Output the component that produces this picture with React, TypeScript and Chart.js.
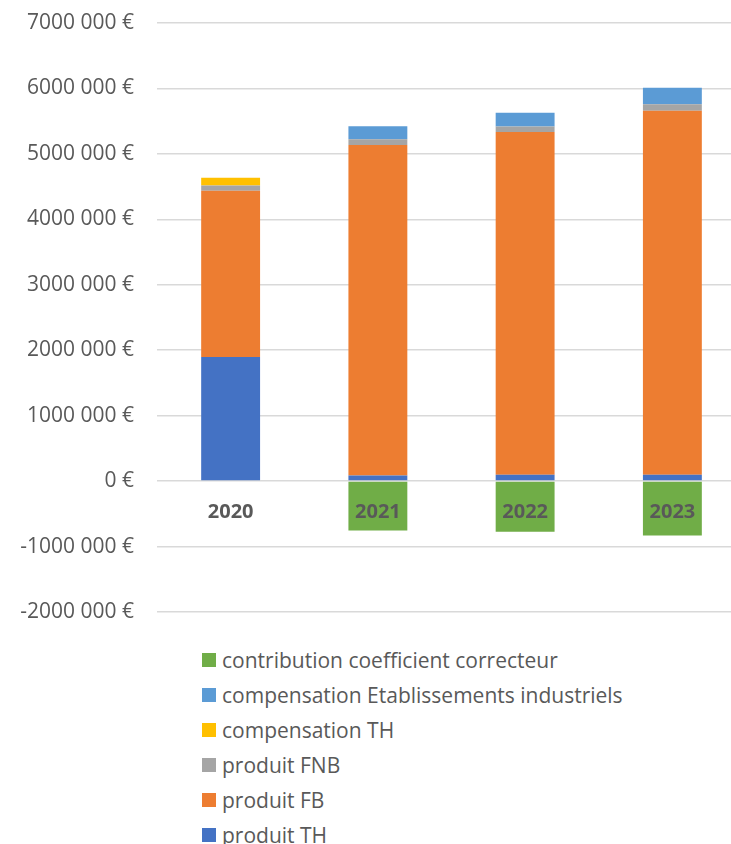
import React, { useEffect, useRef } from "react";
import { Chart, registerables } from "chart.js";

Chart.register(...registerables);

const categories = ["2020", "2021", "2022", "2023"];
const produitTH = [1895000, 85000, 96000, 96000];
const produitFB = [2540000, 5050000, 5240000, 5564000];
const produitFNB = [81000, 87000, 83000, 98000];
const compensationTH = [120000, 0, 0, 0];
const compensationEI = [0, 200000, 210000, 254000];
const contributionCoef = [0, -755000, -775000, -830000];

const seriesNames = [
  "produit TH",
  "produit FB",
  "produit FNB",
  "compensation TH",
  "compensation Etablissements industriels",
  "contribution coefficient correcteur",
];
const seriesColors = ["#4472C4", "#ED7D31", "#A5A5A5", "#FFC000", "#5B9BD5", "#70AD47"];
const seriesData = [produitTH, produitFB, produitFNB, compensationTH, compensationEI, contributionCoef];

const yMin = -2000000;
const yMax = 7000000;
const yStep = 1000000;

function formatEuro(v: number): string {
  if (v === 0) return "0 €";
  const sign = v < 0 ? "-" : "";
  const a = Math.abs(Math.round(v));
  if (a < 1000) return sign + a + " €";
  const hi = Math.floor(a / 1000);
  const lo = String(a % 1000).padStart(3, "0");
  return sign + hi + " " + lo + " €";
}

const FONT = "'Open Sans', sans-serif";
const TEXT = "#595959";

export default function App() {
  const ref = useRef<HTMLCanvasElement | null>(null);

  useEffect(() => {
    if (!ref.current) return;
    const chart = new Chart(ref.current, {
      type: "bar",
      data: {
        labels: categories,
        datasets: seriesNames.map((name, i) => ({
          label: name,
          data: seriesData[i],
          backgroundColor: seriesColors[i],
          borderWidth: 0,
          barPercentage: 0.4,
          categoryPercentage: 1,
          stack: "s",
        })),
      },
      options: {
        responsive: false,
        animation: false,
        devicePixelRatio: 1,
        layout: { padding: { top: 23, bottom: 18, left: 0, right: 0 } },
        plugins: {
          legend: { display: false },
          tooltip: { enabled: false },
        },
        scales: {
          x: {
            stacked: true,
            position: { y: 0 } as any,
            grid: { display: false, drawTicks: false },
            border: { display: false },
            ticks: {
              z: 1,
              color: TEXT,
              font: { family: FONT, size: 20, weight: "bold" },
              padding: 19,
            },
          },
          y: {
            stacked: true,
            min: yMin,
            max: yMax,
            grid: { color: "#D9D9D9", lineWidth: 1.5, drawTicks: false },
            border: { display: false },
            ticks: {
              stepSize: yStep,
              color: TEXT,
              font: { family: FONT, size: 21 },
              padding: 23,
              callback: (v: any) => formatEuro(Number(v)),
            },
            afterFit: (scale: any) => {
              scale.width = 157;
              scale.paddingTop = 0;
              scale.paddingBottom = 0;
            },
          },
        },
      },
    });
    return () => chart.destroy();
  }, []);

  const legendItems = [...seriesNames.keys()].reverse();

  return (
    <div
      style={{
        position: "absolute",
        left: 0,
        top: 0,
        width: 731,
        height: 844,
        overflow: "hidden",
        background: "#fff",
      }}
    >
      <canvas ref={ref} width={746} height={630} style={{ width: 746, height: 630, display: "block" }} />
      {legendItems.map((idx, row) => (
        <div
          key={idx}
          style={{
            position: "absolute",
            left: 202,
            top: 660 + 35 * row - 14,
            height: 28,
            display: "flex",
            alignItems: "center",
            fontFamily: FONT,
            fontSize: 21,
            color: TEXT,
            whiteSpace: "nowrap",
          }}
        >
          <span
            style={{
              display: "inline-block",
              width: 14,
              height: 14,
              background: seriesColors[idx],
              marginRight: 6,
            }}
          />
          <span>{seriesNames[idx]}</span>
        </div>
      ))}
    </div>
  );
}
